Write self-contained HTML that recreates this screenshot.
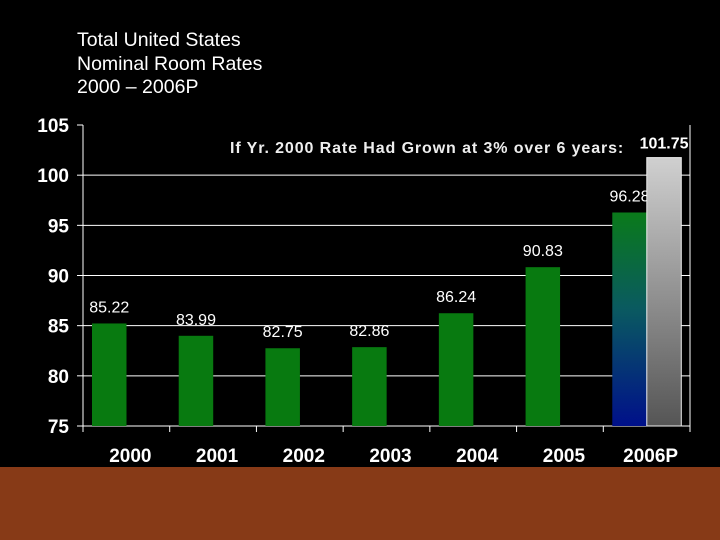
<!DOCTYPE html>
<html><head><meta charset="utf-8"><style>
body{margin:0;background:#000;}
#wrap{position:relative;width:720px;height:540px;background:#000;overflow:hidden;font-family:"Liberation Sans",sans-serif;}
#title{position:absolute;left:77px;top:29px;color:#fff;font-size:19.5px;line-height:23.5px;}
#band{position:absolute;left:0;top:467px;width:720px;height:73px;background:#873a17;}
</style></head><body>
<div id="wrap">
<div id="title">Total United States<br>Nominal Room Rates<br>2000 – 2006P</div>
<svg id="chart" width="720" height="467" style="position:absolute;left:0;top:0">
<defs>
<linearGradient id="gBlue" x1="0" y1="0" x2="0" y2="1"><stop offset="0" stop-color="#0a7a1a"/><stop offset="0.45" stop-color="#0a5a60"/><stop offset="1" stop-color="#00108a"/></linearGradient>
<linearGradient id="gGray" x1="0" y1="0" x2="0" y2="1"><stop offset="0" stop-color="#d0d0d0"/><stop offset="1" stop-color="#555"/></linearGradient>
</defs>
</svg>
<div id="band"></div>
</div>
<script>
const categories=["2000","2001","2002","2003","2004","2005","2006P"];
const actual=[85.22,83.99,82.75,82.86,86.24,90.83,96.28];
const projected=[null,null,null,null,null,null,101.75];
const yTicks=[75,80,85,90,95,100,105];
const NS="http://www.w3.org/2000/svg";
const svg=document.getElementById('chart');
const x0=83,x1=690,yTop=125,yBot=426,yMin=75,yMax=105;
const slot=(x1-x0)/categories.length;
const bw=34.5,off=9;
function y(v){return yBot-(v-yMin)/(yMax-yMin)*(yBot-yTop);}
function mk(tag,attrs){const e=document.createElementNS(NS,tag);for(const k in attrs)e.setAttribute(k,attrs[k]);svg.appendChild(e);return e;}
yTicks.forEach(t=>{
  const yy=y(t);
  if(t>75&&t<105){const g=mk('line',{x1:x0,x2:x1,y1:yy,y2:yy,stroke:'#fff','stroke-width':1});
  
  }
  const tk=mk('line',{x1:x0-6,x2:x0,y1:yy,y2:yy,stroke:'#fff'});
  
  
  const tx=mk('text',{x:x0-14,y:yy+7,'text-anchor':'end',fill:'#fff','font-size':19,'font-weight':'bold','font-family':'Liberation Sans, sans-serif'});
  tx.textContent=t;
  
  
});
let ax=mk('line',{x1:x0,x2:x0,y1:yTop,y2:yBot+6,stroke:'#fff'});


ax=mk('line',{x1:x1,x2:x1,y1:yTop,y2:yBot+6,stroke:'#fff'});


ax=mk('line',{x1:x0,x2:x1,y1:yBot,y2:yBot,stroke:'#fff'});


categories.forEach((c,i)=>{
  const sx=x0+i*slot;
  if(i>0){const tk=mk('line',{x1:sx,x2:sx,y1:yBot,y2:yBot+6,stroke:'#fff'});
  
  }
  const v=actual[i];
  const bx=sx+off;
  const last=i===categories.length-1;
  const r=mk('rect',{x:bx,y:y(v),width:bw,height:yBot-y(v),fill:last?'url(#gBlue)':'#087a10'});
  
  
  const lb=mk('text',{x:bx+bw/2,y:y(v)-11,'text-anchor':'middle',fill:'#fff','font-size':16,'font-family':'Liberation Sans, sans-serif'});
  lb.textContent=v.toFixed(2);
  
  
  const p=projected[i];
  if(p!=null){
    const pr=mk('rect',{x:bx+bw,y:y(p),width:bw,height:yBot-y(p),fill:'url(#gGray)',stroke:'#eee','stroke-width':1});
    
    
    const pl=mk('text',{x:bx+bw+bw/2,y:y(p)-9,'text-anchor':'middle',fill:'#fff','font-size':16,'font-weight':'bold','font-family':'Liberation Sans, sans-serif'});
    pl.textContent=p.toFixed(2);
    
    
  }
  const xl=mk('text',{x:sx+slot/2+4,y:yBot+36,'text-anchor':'middle',fill:'#fff','font-size':19,'font-weight':'bold','font-family':'Liberation Sans, sans-serif'});
  xl.textContent=c;
  
  
});
const note=mk('text',{x:230,y:153,fill:'#eee','font-size':16,'font-weight':'bold','letter-spacing':0.9,'font-family':'Liberation Sans, sans-serif'});
note.textContent="If Yr. 2000 Rate Had Grown at 3% over 6 years:";


</script>
</body></html>
